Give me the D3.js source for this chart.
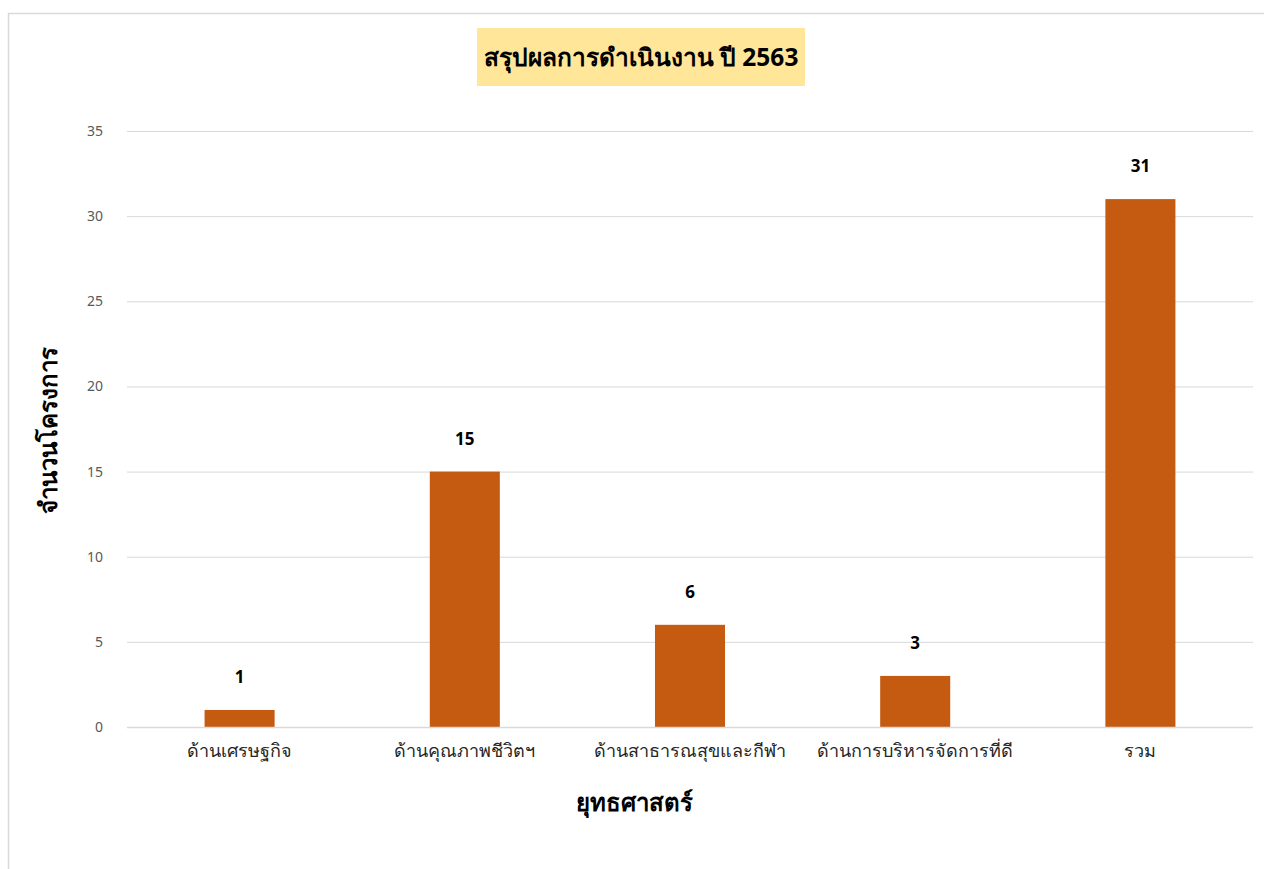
<!DOCTYPE html>
<html>
<head>
<meta charset="utf-8">
<script src="https://cdn.jsdelivr.net/npm/d3@7"></script>
<style>
body{margin:0;background:#fff;}
svg{display:block;font-family:"Noto Sans","Open Sans",sans-serif;}
</style>
</head>
<body>
<svg id="c" width="1264" height="869"></svg>
<script>
const categories = ["ด้านเศรษฐกิจ","ด้านคุณภาพชีวิตฯ","ด้านสาธารณสุขและกีฬา","ด้านการบริหารจัดการที่ดี","รวม"];
const values = [1,15,6,3,31];
const yTicks = [0,5,10,15,20,25,30,35];
const title = "สรุปผลการดำเนินงาน ปี 2563";
const yTitle = "จำนวนโครงการ";
const xTitle = "ยุทธศาสตร์";

const svg = d3.select("#c");
// chart border
svg.append("rect").attr("x",8.5).attr("y",13.5).attr("width",1300).attr("height",900)
  .attr("fill","#fff").attr("stroke","#d9d9d9").attr("stroke-width",1.5);

const m = {left:127,right:1253,top:131,bottom:727};
const x = d3.scaleBand().domain(categories).range([m.left,m.right]).paddingInner(0.689).paddingOuter(0.3445);
const y = d3.scaleLinear().domain([0,35]).range([m.bottom,m.top]);

// gridlines
svg.append("g").selectAll("line").data(yTicks).join("line")
  .attr("x1",m.left).attr("x2",m.right)
  .attr("y1",d=>y(d)+0.5).attr("y2",d=>y(d)+0.5)
  .attr("stroke","#d9d9d9").attr("stroke-width",1);

// y axis tick labels
const ya = svg.append("g").attr("transform",`translate(${m.left-24},0)`)
  .call(d3.axisLeft(y).tickValues(yTicks).tickSize(0).tickPadding(0));
ya.select(".domain").remove();
ya.selectAll("text").attr("fill","#595959").style("font-size","14px").style("font-family","'Noto Sans',sans-serif");

// bars
svg.append("g").selectAll("rect").data(values).join("rect")
  .attr("x",(d,i)=>x(categories[i]))
  .attr("width",x.bandwidth())
  .attr("y",d=>y(d))
  .attr("height",d=>y(0)-y(d))
  .attr("fill","#c55a11");

// baseline
svg.append("line").attr("x1",m.left).attr("x2",m.right).attr("y1",y(0)+0.5).attr("y2",y(0)+0.5)
  .attr("stroke","#d9d9d9").attr("stroke-width",1.5);

// data labels
svg.append("g").selectAll("text").data(values).join("text")
  .attr("x",(d,i)=>x(categories[i])+x.bandwidth()/2)
  .attr("y",d=>y(d)-27)
  .attr("text-anchor","middle")
  .attr("font-weight","bold").attr("font-size","17px").attr("fill","#000")
  .text(d=>d);

// x axis labels
const xa = svg.append("g").attr("transform",`translate(0,${m.bottom})`)
  .call(d3.axisBottom(x).tickSize(0).tickPadding(17));
xa.select(".domain").remove();
xa.selectAll("text").attr("fill","#262626").style("font-size","18px").style("font-family","'Noto Sans',sans-serif");

// title
svg.append("rect").attr("x",477).attr("y",28).attr("width",328).attr("height",58).attr("fill","#ffe699");
svg.append("text").attr("x",641).attr("y",66).attr("text-anchor","middle")
  .attr("font-weight","bold").attr("font-size","24.5px").attr("fill","#000").text(title);

// axis titles
svg.append("text").attr("transform","translate(57,430) rotate(-90)").attr("text-anchor","middle")
  .attr("font-weight","bold").attr("font-size","24px").attr("fill","#000").text(yTitle);
svg.append("text").attr("x",634).attr("y",811).attr("text-anchor","middle")
  .attr("font-weight","bold").attr("font-size","24px").attr("fill","#000").text(xTitle);
</script>
</body>
</html>
